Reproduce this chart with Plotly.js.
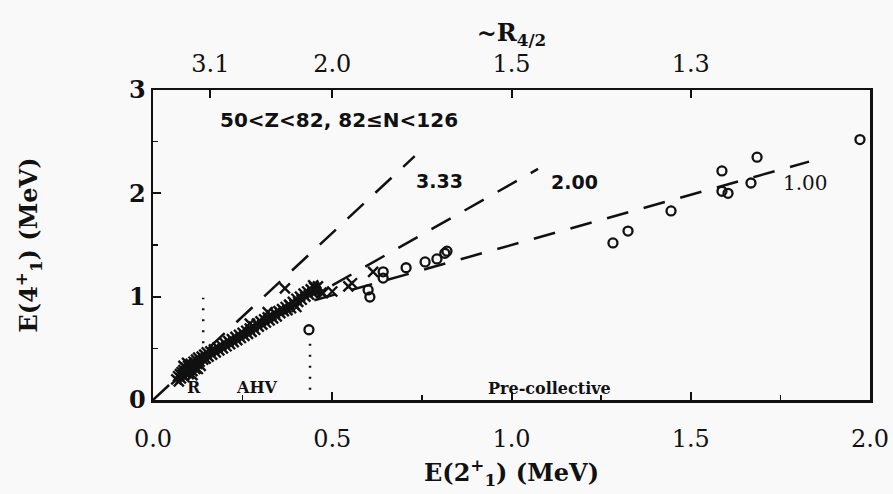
<!DOCTYPE html>
<html>
<head>
<meta charset="utf-8">
<script src="https://cdn.plot.ly/plotly-3.0.1.min.js"></script>
<style>html,body{margin:0;padding:0;background:#f9f9f9;}#chart{width:893px;height:494px;}</style>
</head>
<body>
<div id="chart"></div>
<script>
// Crosses (dense band, R and AHV regions)
const crossE2 = [0.065,0.07,0.072,0.075,0.078,0.08,0.083,0.085,0.088,0.09,0.092,0.095,0.098,0.10,0.102,0.105,0.108,0.11,0.113,0.115,0.118,0.12,0.123,0.126,0.13,0.133,0.136,0.14,0.143,0.147,0.15,0.155,0.16,0.165,0.17,0.175,0.18,0.185,0.19,0.195,0.20,0.205,0.21,0.215,0.22,0.225,0.23,0.235,0.24,0.245,0.25,0.255,0.26,0.265,0.27,0.275,0.28,0.285,0.29,0.295,0.30,0.305,0.31,0.315,0.32,0.325,0.33,0.335,0.34,0.345,0.35,0.355,0.36,0.365,0.37,0.375,0.38,0.385,0.39,0.395,0.40,0.405,0.41,0.415,0.42,0.425,0.43,0.435,0.44,0.445,0.45,0.455,0.46,0.47,0.368,0.447,0.474,0.555,0.545,0.614,0.50,0.38,0.40,0.085,0.11,0.125,0.095,0.32,0.27];
const crossE4 = [0.20,0.23,0.18,0.25,0.21,0.27,0.24,0.29,0.22,0.26,0.31,0.28,0.33,0.25,0.30,0.35,0.32,0.28,0.37,0.33,0.30,0.39,0.35,0.41,0.37,0.33,0.42,0.39,0.44,0.40,0.46,0.42,0.47,0.44,0.49,0.46,0.51,0.48,0.53,0.50,0.55,0.52,0.57,0.54,0.59,0.56,0.61,0.58,0.63,0.60,0.65,0.62,0.67,0.64,0.69,0.66,0.71,0.68,0.74,0.71,0.76,0.73,0.78,0.75,0.80,0.77,0.82,0.79,0.84,0.81,0.86,0.84,0.88,0.86,0.90,0.87,0.92,0.89,0.95,0.92,0.98,0.95,1.00,0.97,1.03,1.00,1.05,1.02,1.07,1.04,1.09,1.05,1.10,1.04,1.08,1.11,1.035,1.13,1.10,1.24,1.05,0.92,0.90,0.33,0.24,0.30,0.36,0.85,0.74];
// Open circles (pre-collective region)
const circleE2 = [0.435,0.455,0.60,0.605,0.642,0.642,0.706,0.759,0.792,0.814,0.82,1.283,1.325,1.445,1.587,1.587,1.604,1.668,1.685,1.972];
const circleE4 = [0.68,1.07,1.065,0.997,1.24,1.18,1.28,1.336,1.365,1.42,1.44,1.52,1.635,1.83,2.217,2.02,2.00,2.10,2.35,2.52];
// Reference lines (dashed)
const line333E2 = [0, 0.73], line333E4 = [0, 2.36];
const line200E2 = [0.50, 1.074], line200E4 = [1.11, 2.236];
const line100E2 = [0.45, 1.83], line100E4 = [0.965, 2.307];
// Dotted region boundaries
const dot1E2 = [0.14, 0.14], dot1E4 = [0.55, 0.99];
const dot2E2 = [0.438, 0.438], dot2E4 = [0.10, 0.58];
// Top axis (~R4/2)
const topTickE2 = [0.16, 0.5, 1.0, 1.5];
const topTickText = ['3.1', '2.0', '1.5', '1.3'];

const ink = '#111';
const serif = 'DejaVu Serif, serif';
const sansB = 'DejaVu Sans, sans-serif';

const dashStyle = '22px,16px';
const traces = [
  {x: line333E2, y: line333E4, mode: 'lines', line: {color: ink, width: 2.5, dash: dashStyle}, hoverinfo: 'skip'},
  {x: line200E2, y: line200E4, mode: 'lines', line: {color: ink, width: 2.5, dash: dashStyle}, hoverinfo: 'skip'},
  {x: line100E2, y: line100E4, mode: 'lines', line: {color: ink, width: 2.5, dash: dashStyle}, hoverinfo: 'skip'},
  {x: dot1E2, y: dot1E4, mode: 'lines', line: {color: ink, width: 2.5, dash: '2px,9px'}, hoverinfo: 'skip'},
  {x: dot2E2, y: dot2E4, mode: 'lines', line: {color: ink, width: 2.5, dash: '2px,9px'}, hoverinfo: 'skip'},
  {x: crossE2, y: crossE4, mode: 'markers', marker: {symbol: 'x-thin', size: 10, color: ink, line: {color: ink, width: 2.4}}},
  {x: circleE2, y: circleE4, mode: 'markers', marker: {symbol: 'circle-open', size: 9, color: ink, line: {color: ink, width: 2.3}}},
  {x: [0], y: [0], xaxis: 'x2', mode: 'markers', marker: {opacity: 0}, hoverinfo: 'skip'}
];

const layout = {
  width: 893, height: 494,
  paper_bgcolor: '#f9f9f9', plot_bgcolor: '#f9f9f9',
  margin: {l: 153, r: 23, t: 90, b: 94},
  showlegend: false,
  font: {family: serif, color: ink, size: 24},
  xaxis: {
    range: [0, 2], dtick: 0.5, tickformat: '.1f',
    showline: true, linecolor: ink, linewidth: 2.5, mirror: false,
    ticks: 'inside', ticklen: 8, tickwidth: 2, tickcolor: ink,
    minor: {dtick: 0.25, ticks: 'inside', ticklen: 5, tickwidth: 1.5, tickcolor: ink},
    showgrid: false, zeroline: false,
    ticklabelstandoff: 16,
    tickfont: {family: serif, size: 24, color: ink},
    title: {text: 'E(2<sup>+</sup><sub>1</sub>) (MeV)', font: {family: serif, size: 24, color: ink, weight: 'bold'}, standoff: 12}
  },
  xaxis2: {
    overlaying: 'x', side: 'top', range: [0, 2],
    tickmode: 'array', tickvals: topTickE2, ticktext: topTickText,
    showline: true, linecolor: ink, linewidth: 2.5,
    ticks: 'inside', ticklen: 8, tickwidth: 2, tickcolor: ink,
    showgrid: false, zeroline: false,
    ticklabelstandoff: 6,
    tickfont: {family: serif, size: 24, color: ink},
    title: {text: '~R<sub>4/2</sub>', font: {family: serif, size: 24, color: ink, weight: 'bold'}, standoff: 2}
  },
  yaxis: {
    range: [0, 3], dtick: 1,
    showline: true, linecolor: ink, linewidth: 2.5, mirror: true,
    ticks: 'inside', ticklen: 8, tickwidth: 2, tickcolor: ink,
    minor: {dtick: 0.5, ticks: 'inside', ticklen: 5, tickwidth: 1.5, tickcolor: ink},
    showgrid: false, zeroline: false,
    tickfont: {family: serif, size: 24, color: ink, weight: 'bold'},
    title: {text: 'E(4<sup>+</sup><sub>1</sub>) (MeV)', font: {family: serif, size: 24, color: ink, weight: 'bold'}, standoff: 85}
  },
  annotations: [
    {x: 0.52, y: 2.71, text: '50<Z<82, 82≤N<126', showarrow: false, font: {family: sansB, size: 20, color: ink, weight: 'bold'}},
    {x: 0.80, y: 2.12, text: '3.33', showarrow: false, font: {family: sansB, size: 19, color: ink, weight: 'bold'}},
    {x: 1.177, y: 2.11, text: '2.00', showarrow: false, font: {family: sansB, size: 19, color: ink, weight: 'bold'}},
    {x: 1.82, y: 2.10, text: '1.00', showarrow: false, font: {family: serif, size: 20, color: ink}},
    {x: 0.115, y: 0.125, text: 'R', showarrow: false, font: {family: serif, size: 16, color: ink, weight: 'bold'}},
    {x: 0.29, y: 0.125, text: 'AHV', showarrow: false, font: {family: serif, size: 16, color: ink, weight: 'bold'}},
    {x: 1.107, y: 0.115, text: 'Pre-collective', showarrow: false, font: {family: serif, size: 16, color: ink, weight: 'bold'}}
  ]
};

Plotly.newPlot('chart', traces, layout, {staticPlot: true});
</script>
</body>
</html>
